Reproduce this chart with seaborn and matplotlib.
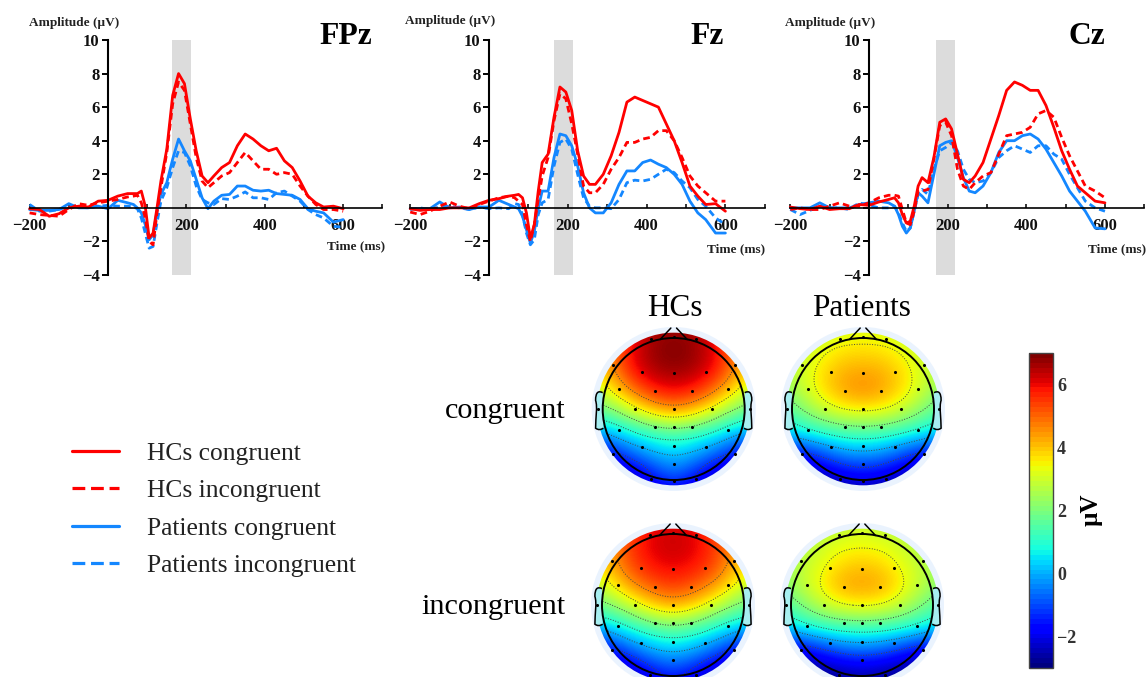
import numpy as np
import pandas as pd
import matplotlib
matplotlib.use("Agg")
import matplotlib.pyplot as plt
import seaborn as sns
from matplotlib.lines import Line2D
from matplotlib.patches import Circle, PathPatch
from matplotlib.path import Path
from matplotlib.cm import ScalarMappable
from matplotlib.colors import Normalize

# Time points of the ERP curves (ms)
times = [-200, -175, -150, -125, -100, -75, -50, -25, 0, 25, 50, 65, 75, 85, 95, 105, 115, 125, 135,
         150, 165, 180, 195, 210, 225, 240, 255, 270, 290, 310, 330, 350, 370, 390, 410, 430, 450,
         470, 490, 510, 530, 550, 575, 600]

# FPz
fpz_hc_con = [-0.05, -0.1, -0.5, -0.35, 0.0, 0.1, 0.05, 0.4, 0.45, 0.7, 0.85, 0.85, 0.85, 1.0, 0.1, -1.8, -1.5, 0.0, 1.6,
              3.5, 6.7, 8.0, 7.4, 5.3, 3.4, 1.9, 1.5, 1.9, 2.4, 2.7, 3.7, 4.4, 4.1, 3.7, 3.4, 3.55, 2.8,
              2.4, 1.6, 0.7, 0.3, 0.05, 0.1, -0.05]
fpz_hc_inc = [-0.3, -0.4, -0.45, -0.5, -0.1, 0.25, 0.15, 0.3, 0.4, 0.5, 0.65, 0.7, 0.75, 0.3, -0.6, -2.0, -2.2, -0.3, 1.2,
              3.3, 6.2, 7.5, 7.0, 5.0, 3.0, 1.6, 1.2, 1.5, 1.9, 2.1, 2.7, 3.3, 2.8, 2.3, 2.3, 2.0, 2.1,
              2.0, 1.3, 0.7, 0.2, -0.1, -0.1, -0.2]
fpz_pt_con = [-0.1, -0.15, -0.15, -0.1, 0.25, 0.0, 0.0, 0.1, -0.05, 0.45, 0.3, 0.2, 0.0, -0.3, -1.0, -1.9, -1.6, -0.2, 0.8,
              1.5, 2.9, 4.1, 3.4, 2.8, 1.7, 0.6, -0.05, 0.4, 0.75, 0.8, 1.3, 1.3, 1.05, 1.0, 1.05, 0.85, 0.8,
              0.75, 0.5, -0.05, -0.2, -0.3, -0.85, -0.7]
fpz_pt_inc = [0.2, -0.2, -0.2, -0.1, 0.1, 0.05, 0.0, 0.1, 0.15, 0.1, 0.1, 0.05, -0.05, -0.6, -1.5, -2.4, -2.3, -0.9, 0.4,
              1.2, 2.4, 3.4, 3.3, 2.5, 1.3, 0.5, 0.3, 0.2, 0.55, 0.5, 0.7, 0.95, 0.6, 0.6, 0.5, 0.9, 1.0,
              0.7, 0.4, -0.1, -0.4, -0.6, -1.1, -1.15]

# Fz
fz_hc_con = [-0.05, -0.15, -0.1, -0.1, 0.0, 0.0, 0.0, 0.25, 0.45, 0.55, 0.7, 0.75, 0.8, 0.6, -0.3, -1.8, -1.0, 1.0, 2.7,
             3.2, 5.4, 7.2, 6.9, 5.8, 3.4, 1.9, 1.4, 1.4, 2.0, 3.1, 4.5, 6.3, 6.6, 6.4, 6.2, 6.0, 5.0,
             4.0, 2.7, 1.3, 0.7, 0.2, 0.25, -0.2]
fz_hc_inc = [-0.25, -0.4, -0.2, 0.1, 0.35, 0.1, -0.05, 0.2, 0.4, 0.6, 0.7, 0.6, 0.4, 0.2, -1.0, -2.0, -1.0, 0.5, 1.9,
             3.0, 5.2, 6.8, 6.5, 5.0, 3.2, 1.3, 0.9, 0.9, 1.4, 2.3, 3.0, 3.9, 3.9, 4.1, 4.2, 4.6, 4.6,
             4.0, 3.0, 1.9, 1.3, 0.9, 0.4, 0.4]
fz_pt_con = [-0.05, -0.05, -0.05, 0.35, 0.0, 0.05, -0.1, 0.05, 0.05, 0.45, 0.2, 0.05, -0.05, -0.5, -1.3, -2.1, -1.4, 0.0, 1.0,
             1.0, 3.0, 4.4, 4.3, 3.7, 2.5, 0.9, 0.0, -0.3, -0.3, 0.3, 1.4, 2.2, 2.2, 2.7, 2.85, 2.6, 2.4,
             2.0, 1.4, 0.4, -0.3, -0.7, -1.5, -1.5]
fz_pt_inc = [-0.1, 0.0, -0.1, 0.05, 0.1, 0.0, -0.1, 0.05, -0.05, 0.0, -0.05, 0.25, 0.2, -0.4, -1.5, -2.2, -1.9, -0.4, 0.3,
             0.5, 2.5, 3.9, 4.1, 3.5, 2.0, 0.6, 0.1, 0.0, 0.0, -0.05, 0.5, 1.5, 1.65, 1.6, 1.7, 2.0, 2.3,
             2.1, 1.6, 1.2, 0.5, 0.1, -0.6, -1.0]

# Cz
cz_hc_con = [0.05, -0.05, -0.1, 0.1, -0.1, -0.05, -0.05, 0.2, 0.15, 0.35, 0.5, 0.6, 0.3, -0.4, -0.9, -0.8, 0.1, 1.3, 1.8,
             1.5, 3.0, 5.1, 5.3, 4.7, 3.2, 1.7, 1.5, 1.9, 2.7, 4.1, 5.5, 7.0, 7.5, 7.3, 7.0, 7.0, 6.1,
             4.8, 3.4, 2.3, 1.3, 0.9, 0.4, 0.3]
cz_hc_inc = [-0.1, 0.0, -0.1, -0.1, 0.1, 0.3, 0.1, 0.1, 0.3, 0.6, 0.75, 0.75, 0.7, -0.1, -0.9, -1.0, -0.2, 1.0, 1.0,
             1.1, 2.9, 4.9, 5.1, 4.3, 2.3, 1.3, 1.1, 1.5, 1.9, 2.1, 3.2, 4.3, 4.4, 4.5, 4.8, 5.6, 5.8,
             5.4, 4.2, 3.1, 2.2, 1.3, 1.0, 0.6]
cz_pt_con = [0.0, 0.0, 0.0, 0.3, 0.0, 0.0, 0.0, 0.2, 0.3, 0.4, 0.3, 0.1, -0.4, -1.1, -1.5, -1.2, -0.2, 0.9, 0.7,
             0.3, 2.0, 3.7, 3.9, 4.0, 3.0, 1.8, 1.0, 0.9, 1.3, 2.1, 3.3, 4.0, 4.0, 4.3, 4.4, 4.1, 3.5,
             2.7, 1.9, 1.0, 0.4, -0.2, -1.2, -1.25]
cz_pt_inc = [-0.1, -0.4, -0.15, 0.1, 0.0, 0.0, -0.1, 0.3, 0.15, 0.0, 0.0, 0.1, -0.3, -0.9, -1.4, -1.2, -0.2, 0.8, 1.1,
             0.8, 2.3, 3.4, 3.6, 3.9, 3.4, 2.3, 1.7, 1.5, 1.6, 2.1, 3.0, 3.4, 3.7, 3.5, 3.3, 3.7, 3.7,
             3.2, 2.9, 2.0, 1.2, 0.4, 0.0, -0.2]

group_names = ["Patients incongruent", "Patients congruent", "HCs incongruent", "HCs congruent"]
legend_names = ["HCs congruent", "HCs incongruent", "Patients congruent", "Patients incongruent"]

# Topographic maps, rows run from front of the head to the back
hc_con_map = [[3.5, 4.6, 5.8, 6.5, 6.7, 6.5, 5.8, 4.6, 3.5],
              [4.2, 4.8, 6.0, 6.8, 7.0, 6.8, 6.0, 4.8, 4.2],
              [3.6, 4.5, 6.0, 6.7, 6.9, 6.7, 6.0, 4.5, 3.6],
              [3.0, 3.6, 5.0, 5.9, 6.2, 5.9, 5.0, 3.6, 3.0],
              [1.6, 2.1, 3.2, 4.2, 4.7, 4.2, 3.2, 2.1, 1.6],
              [0.0, 0.3, 0.9, 1.3, 1.7, 1.3, 0.9, 0.3, 0.0],
              [-2.0, -1.5, -0.6, 0.1, 0.4, 0.1, -0.6, -1.5, -2.0],
              [-3.0, -2.7, -2.3, -1.4, -0.6, -1.4, -2.3, -2.7, -3.0],
              [-3.0, -3.0, -3.0, -2.5, -2.0, -2.5, -3.0, -3.0, -3.0]]
pt_con_map = [[1.6, 2.2, 2.7, 3.0, 3.2, 3.0, 2.7, 2.2, 1.6],
              [2.1, 2.7, 3.2, 3.5, 3.6, 3.5, 3.2, 2.7, 2.1],
              [2.4, 3.0, 3.6, 4.1, 4.2, 4.1, 3.6, 3.0, 2.4],
              [2.1, 2.8, 3.7, 4.4, 4.7, 4.4, 3.7, 2.8, 2.1],
              [1.3, 2.0, 2.9, 3.5, 3.7, 3.5, 2.9, 2.0, 1.3],
              [0.4, 0.8, 1.2, 1.5, 1.6, 1.5, 1.2, 0.8, 0.4],
              [-1.8, -1.5, -0.9, -0.2, 0.0, -0.2, -0.9, -1.5, -1.8],
              [-3.0, -2.8, -2.4, -1.9, -1.7, -1.9, -2.4, -2.8, -3.0],
              [-3.0, -3.0, -3.0, -3.0, -2.6, -3.0, -3.0, -3.0, -3.0]]
hc_inc_map = [[3.3, 4.3, 5.3, 5.9, 6.2, 5.9, 5.3, 4.3, 3.3],
              [3.9, 4.5, 5.5, 6.2, 6.4, 6.2, 5.5, 4.5, 3.9],
              [3.4, 4.2, 5.4, 6.0, 6.2, 6.0, 5.4, 4.2, 3.4],
              [2.9, 3.4, 4.6, 5.3, 5.6, 5.3, 4.6, 3.4, 2.9],
              [1.6, 2.1, 3.0, 3.9, 4.4, 3.9, 3.0, 2.1, 1.6],
              [0.0, 0.4, 1.0, 1.5, 1.9, 1.5, 1.0, 0.4, 0.0],
              [-2.0, -1.5, -0.6, 0.1, 0.4, 0.1, -0.6, -1.5, -2.0],
              [-3.0, -2.7, -2.3, -1.5, -1.0, -1.5, -2.3, -2.7, -3.0],
              [-3.0, -3.0, -3.0, -2.6, -2.2, -2.6, -3.0, -3.0, -3.0]]
pt_inc_map = [[1.5, 1.9, 2.3, 2.6, 2.9, 2.6, 2.3, 1.9, 1.5],
              [1.9, 2.4, 2.9, 3.2, 3.3, 3.2, 2.9, 2.4, 1.9],
              [2.1, 2.7, 3.2, 3.7, 3.9, 3.7, 3.2, 2.7, 2.1],
              [2.0, 2.7, 3.5, 4.3, 4.5, 4.3, 3.5, 2.7, 2.0],
              [1.2, 1.9, 2.8, 3.4, 3.6, 3.4, 2.8, 1.9, 1.2],
              [0.4, 0.7, 1.1, 1.3, 1.4, 1.3, 1.1, 0.7, 0.4],
              [-2.0, -1.8, -1.2, -0.6, -0.4, -0.6, -1.2, -1.8, -2.0],
              [-3.0, -3.0, -2.8, -2.5, -2.3, -2.5, -2.8, -3.0, -3.0],
              [-3.0, -3.0, -3.0, -3.0, -2.9, -3.0, -3.0, -3.0, -3.0]]

grid_x = [-1.2, -0.9, -0.6, -0.3, 0.0, 0.3, 0.6, 0.9, 1.2]
grid_y = [1.2, 0.9, 0.6, 0.3, 0.0, -0.3, -0.6, -0.9, -1.2]
contour_levels = [-1.3, -0.1, 1.0, 2.2, 3.5, 4.8]

# Electrode sites
elec_x = [-0.32, 0, 0.32, -0.86, 0.86, -0.45, 0, 0.45, -0.77, -0.26, 0.26, 0.77, -1.07, -0.54, 0, 0.54, 1.07,
          -0.77, -0.26, 0, 0.26, 0.77, -0.86, -0.45, 0, 0.45, 0.86, 0, -0.32, 0, 0.32]
elec_y = [0.98, 1.02, 0.98, 0.62, 0.62, 0.52, 0.51, 0.52, 0.28, 0.26, 0.26, 0.28, 0, 0, 0, 0, 0,
          -0.3, -0.26, -0.26, -0.26, -0.3, -0.64, -0.53, -0.52, -0.53, -0.64, -0.77, -0.98, -1.02, -0.98]

W, H = 1146, 677
sns.set_theme(style="white")
plt.rcParams["font.family"] = ["Liberation Serif", "DejaVu Serif"]
plt.rcParams["axes.unicode_minus"] = True

RED = "#ff0000"
BLUE = "#1487ff"
palette = {"HCs congruent": RED, "HCs incongruent": RED, "Patients congruent": BLUE, "Patients incongruent": BLUE}
dash_map = {"HCs congruent": "", "HCs incongruent": (2.4, 1.5), "Patients congruent": "", "Patients incongruent": (2.4, 1.5)}

fig = plt.figure(figsize=(W / 100, H / 100), dpi=100)


def px_axes(left, top, right, bottom):
    return fig.add_axes([left / W, 1 - bottom / H, (right - left) / W, (bottom - top) / H])


def px_text(x, y, s, **kw):
    fig.text(x / W, 1 - y / H, s, **kw)


def draw_erp(left, right, band, series, title, title_x, amp_x, amp_y, time_x, time_y):
    ax = px_axes(left, 40, right, 275)
    ax.patch.set_alpha(0)
    ax.axvspan(band[0], band[1], color="#dcdcdc", lw=0, zorder=0)
    df = pd.DataFrame({"time": times * 4,
                       "amp": sum(series, []),
                       "group": np.repeat(group_names, len(times))})
    sns.lineplot(data=df, x="time", y="amp", hue="group", style="group", palette=palette, dashes=dash_map,
                 estimator=None, linewidth=2.0, legend=False, ax=ax, clip_on=False)
    ax.set_xlim(-200, 700)
    ax.set_ylim(-4, 10)
    ax.set_xlabel("")
    ax.set_ylabel("")
    sns.despine(ax=ax)
    ax.spines["left"].set_position(("data", 0))
    ax.spines["bottom"].set_position(("data", 0))
    ax.spines["left"].set_linewidth(1.5)
    ax.spines["bottom"].set_linewidth(1.2)
    ax.spines["left"].set_color("black")
    ax.spines["bottom"].set_color("black")
    ticks = list(range(-200, 701, 100))
    ax.set_xticks(ticks)
    ax.set_xticklabels(["\u2212200" if t == -200 else str(t) if t in (200, 400, 600) else "" for t in ticks],
                       fontsize=12, fontweight="bold")
    ax.set_yticks(range(-4, 11, 2))
    ax.set_yticklabels(["\u22124", "\u22122", "", "2", "4", "6", "8", "10"], fontsize=12, fontweight="bold")
    ax.tick_params(axis="x", direction="in", length=3, width=1.1, pad=7.5, color="black", bottom=True, labelcolor="#111111")
    ax.tick_params(axis="y", direction="out", length=4.5, width=1.4, pad=1.5, color="black", left=True, labelcolor="#111111")
    px_text(title_x, 36, title, fontsize=22.8, fontweight="bold", ha="center", va="center", color="black")
    px_text(amp_x, amp_y, "Amplitude (\u00b5V)", fontsize=9.5, fontweight="bold", ha="left", va="center", color="#222222")
    px_text(time_x, time_y, "Time (ms)", fontsize=9.6, fontweight="bold", ha="left", va="center", color="#222222")


draw_erp(29.6, 382.4, (163, 212), [fpz_pt_inc, fpz_pt_con, fpz_hc_inc, fpz_hc_con], "FPz", 345.5, 29, 23, 327, 246)
draw_erp(410.2, 764.8, (165, 213), [fz_pt_inc, fz_pt_con, fz_hc_inc, fz_hc_con], "Fz", 707, 405, 21, 707, 249)
draw_erp(790.3, 1144.3, (170, 218), [cz_pt_inc, cz_pt_con, cz_hc_inc, cz_hc_con], "Cz", 1087, 785, 23, 1088, 249)

# Least squares polynomial, only to get round contour lines out of the coarse grids
fine_axis = np.linspace(-1.2, 1.2, 97)
vand_fine = np.polynomial.polynomial.polyvander(fine_axis, 6)
vand_grid = np.polynomial.polynomial.polyvander(np.array(grid_x), 6)
smoother = vand_fine @ np.linalg.pinv(vand_grid)


def draw_topo(cx, cy, values):
    r_head = 71.0
    half = 100.0
    ax = px_axes(cx - half, cy - half, cx + half, cy + half)
    lim = half / r_head
    ax.set_aspect("equal")
    ax.axis("off")
    ax.add_patch(Circle((0, 0), 1.155, fc="#eaf3fe", ec="none", zorder=0))
    step = 0.3
    im = ax.imshow(values, cmap="jet", vmin=-3, vmax=7, interpolation="bicubic", interpolation_stage="data",
                   extent=[-1.2 - step / 2, 1.2 + step / 2, -1.2 - step / 2, 1.2 + step / 2], zorder=1)
    im.set_clip_path(Circle((0, 0), 1.075, transform=ax.transData))
    ax.set_xlim(-lim, lim)
    ax.set_ylim(-lim, lim)
    fine_values = smoother @ np.array(values)[::-1] @ smoother.T
    cs = ax.contour(fine_axis, fine_axis, fine_values, levels=contour_levels, colors="#444444", linewidths=0.7,
                    linestyles=":", zorder=2)
    cs.set_clip_path(Circle((0, 0), 1.0, transform=ax.transData))
    # head outline, nose and ears
    ax.add_patch(Circle((0, 0), 1.0, fc="none", ec="black", lw=1.4, zorder=4))
    ax.plot([-0.19, -0.04], [0.98, 1.14], color="black", lw=1.1, zorder=4)
    ax.plot([0.19, 0.04], [0.98, 1.14], color="black", lw=1.1, zorder=4)
    for sign in (-1, 1):
        ear = Path([(sign * 1.0, 0.23), (sign * 1.06, 0.26), (sign * 1.1, 0.24), (sign * 1.1, 0.12),
                    (sign * 1.07, 0.03), (sign * 1.1, -0.12), (sign * 1.1, -0.27), (sign * 1.05, -0.31),
                    (sign * 0.99, -0.27)],
                   [Path.MOVETO] + [Path.CURVE4] * 6 + [Path.CURVE3] * 2)
        ax.add_patch(PathPatch(ear, fc="#a6eef0", ec="black", lw=1.1, zorder=3))
    ax.scatter(elec_x, elec_y, s=5, color="black", linewidths=0, zorder=5)


draw_topo(673.7, 409, hc_con_map)
draw_topo(863, 409, pt_con_map)
draw_topo(673, 605, hc_inc_map)
draw_topo(862, 605, pt_inc_map)

px_text(675, 308, "HCs", fontsize=22.5, ha="center", va="center", color="black")
px_text(862, 308, "Patients", fontsize=22.5, ha="center", va="center", color="black")
px_text(566, 411, "congruent", fontsize=21.8, ha="right", va="center", color="black")
px_text(566, 607, "incongruent", fontsize=21.8, ha="right", va="center", color="black")

# Colour bar
cax = px_axes(1029, 353, 1053, 668)
cbar = fig.colorbar(ScalarMappable(norm=Normalize(-3, 7), cmap=plt.get_cmap("jet", 64)), cax=cax)
cbar.set_ticks([-2, 0, 2, 4, 6])
cbar.set_ticklabels(["\u22122", "0", "2", "4", "6"])
cax.tick_params(axis="y", direction="in", length=2.5, width=1, pad=3, labelsize=13, color="#222222", right=True,
                labelcolor="#333333")
for lab in cax.get_yticklabels():
    lab.set_fontweight("bold")
cbar.outline.set_edgecolor("#444444")
cbar.outline.set_linewidth(1.0)
px_text(1091, 510, "\u00b5V", fontsize=18, fontweight="bold", rotation=90, ha="center", va="center", color="black")

# Legend
handles = [Line2D([], [], color=palette[n], lw=2.3, dashes=(4, 1.8) if dash_map[n] else (None, None)) for n in legend_names]
leg = fig.legend(handles, legend_names, loc="upper left", bbox_to_anchor=(72 / W, 1 - 442 / H), frameon=False,
                 fontsize=18.4, handlelength=1.84, handletextpad=1.1, labelspacing=0.57, borderpad=0, borderaxespad=0)
for txt in leg.get_texts():
    txt.set_color("#222222")

fig.savefig("out.png", dpi=100)
